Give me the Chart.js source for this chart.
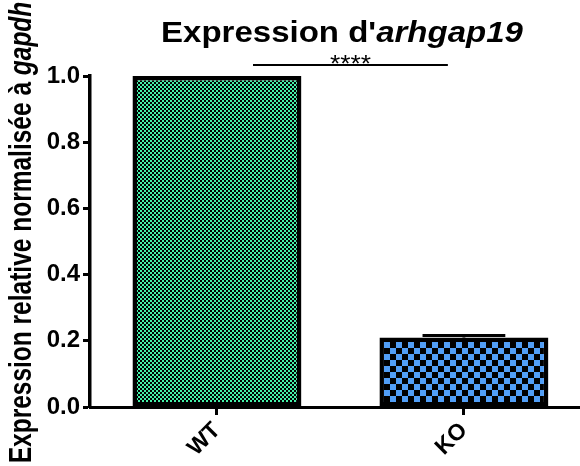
<!DOCTYPE html>
<html>
<head>
<meta charset="utf-8">
<script src="https://cdn.jsdelivr.net/npm/chart.js@4"></script>
<style>
  html, body { margin: 0; padding: 0; background: #fff; overflow: hidden; }
</style>
</head>
<body>
<canvas id="chart" width="580" height="466"></canvas>
<script>
const categories = ["WT", "KO"]
const means = [1.0, 0.21]
const sems = [0, 0.006]
const yTicks = [0, 0.2, 0.4, 0.6, 0.8, 1.0]
const barColors = ["#44f0a8", "#519ef6"]
const checkSize = [2, 6]
const blackPart = [0.7, 0.95]
const stars = "****"

const FONT = "'Liberation Sans', Arial, Helvetica, sans-serif"
const STRETCH = 1.1 //le texte de l'original est un peu etire en largeur
const canvas = document.getElementById("chart")
const ctx = canvas.getContext("2d")

//motif a damier comme dans Prism (dessine en grand puis reduit)
function checker(color, size, frac) {
  const R = 10
  const cell = size * R
  const sq = cell * frac
  const off = (cell - sq) / 2
  const tile = document.createElement("canvas")
  tile.width = cell * 2
  tile.height = cell * 2
  const c = tile.getContext("2d")
  c.fillStyle = color
  c.fillRect(0, 0, cell * 2, cell * 2)
  c.fillStyle = "#000"
  c.fillRect(off, off, sq, sq)
  c.fillRect(cell + off, cell + off, sq, sq)
  const pat = ctx.createPattern(tile, "repeat")
  pat.setTransform(new DOMMatrix().scale(1 / R))
  return pat
}

//texte avec morceaux en italique, centre en x
function drawParts(c, parts, x, y) {
  let total = 0
  parts.forEach(p => { c.font = p.font; p.w = c.measureText(p.text).width; total += p.w })
  let cx = x - total / 2
  c.textAlign = "left"
  parts.forEach(p => { c.font = p.font; c.fillText(p.text, cx, y); cx += p.w })
}

const decorations = {
  id: "decorations",
  afterDatasetsDraw(chart) {
    const { ctx, scales: { x, y } } = chart
    const meta = chart.getDatasetMeta(0)
    ctx.save()
    ctx.strokeStyle = "#000"
    //barres d'erreur
    meta.data.forEach((bar, i) => {
      if (!sems[i]) return
      const top = y.getPixelForValue(means[i] + sems[i])
      const half = bar.width * 0.245
      ctx.lineWidth = 3
      ctx.beginPath()
      ctx.moveTo(bar.x, bar.y)
      ctx.lineTo(bar.x, top)
      ctx.moveTo(bar.x - half, top)
      ctx.lineTo(bar.x + half, top)
      ctx.stroke()
    })
    //significativite
    const sy = y.getPixelForValue(1.033)
    const x1 = x.getPixelForValue(0.146)
    const x2 = x.getPixelForValue(0.935)
    ctx.lineWidth = 2
    ctx.beginPath()
    ctx.moveTo(x1, sy)
    ctx.lineTo(x2, sy)
    ctx.stroke()
    ctx.fillStyle = "#000"
    ctx.translate((x1 + x2) / 2, sy + 7)
    ctx.scale(STRETCH, 1)
    ctx.font = "24px " + FONT
    ctx.textAlign = "center"
    ctx.textBaseline = "alphabetic"
    ctx.fillText(stars, 0, 0)
    ctx.restore()
  },
  afterDraw(chart) {
    const { ctx, chartArea } = chart
    ctx.save()
    ctx.fillStyle = "#000"
    ctx.textBaseline = "alphabetic"
    //titre
    ctx.translate(342, 42)
    ctx.scale(STRETCH, 1)
    drawParts(ctx, [
      { text: "Expression d'", font: "bold 30px " + FONT },
      { text: "arhgap19", font: "italic bold 30px " + FONT }
    ], 0, 0)
    ctx.restore()
    //titre axe y
    ctx.save()
    ctx.fillStyle = "#000"
    ctx.textBaseline = "alphabetic"
    ctx.translate(31, (chartArea.top + chartArea.bottom) / 2 - 9)
    ctx.scale(1.3, 1)
    ctx.rotate(-Math.PI / 2)
    drawParts(ctx, [
      { text: "Expression relative normalisée à ", font: "bold 24.5px " + FONT },
      { text: "gapdh", font: "italic bold 24.5px " + FONT }
    ], 0, 0)
    ctx.restore()
  }
}

let chart = new Chart(ctx, {
  type: "bar",
  plugins: [decorations],
  data: {
    datasets: [
      {
        data: categories.map((c, i) => ({ x: i, y: means[i] })),
        backgroundColor: barColors.map((col, i) => checker(col, checkSize[i], blackPart[i])),
        borderColor: "#000",
        borderWidth: 4.5,
        borderSkipped: false,
        categoryPercentage: 1,
        barPercentage: 0.684
      }
    ]
  },
  options: {
    responsive: false,
    animation: false,
    events: [],
    layout: { padding: { top: 76, left: 0, right: 0, bottom: 0 } },
    plugins: { legend: { display: false }, tooltip: { enabled: false }, title: { display: false } },
    scales: {
      x: {
        type: "linear",
        offset: false,
        min: -0.514,
        max: 1.47,
        afterBuildTicks(scale) { scale.ticks = categories.map((c, i) => ({ value: i })) },
        afterFit(scale) {
          scale.height = 59
          scale.paddingLeft = 0
          scale.paddingRight = 0
        },
        ticks: {
          autoSkip: false,
          minRotation: 45,
          maxRotation: 45,
          color: "#000",
          padding: 2,
          font: { family: FONT, size: 23, weight: "bold" },
          callback: v => categories[v]
        },
        grid: { offset: false, drawOnChartArea: false, drawTicks: true, tickLength: 8, tickWidth: 3, tickColor: "#000" },
        border: { color: "#000", width: 3 }
      },
      y: {
        min: 0,
        max: 1,
        afterBuildTicks(scale) { scale.ticks = yTicks.map(v => ({ value: v })) },
        afterFit(scale) {
          scale.width = 90
          scale.paddingTop = 0
          scale.paddingBottom = 0
        },
        ticks: {
          color: "#000",
          padding: 3,
          font: { family: FONT, size: 24, weight: "bold" },
          callback: v => v.toFixed(1)
        },
        grid: { drawOnChartArea: false, drawTicks: true, tickLength: 7, tickWidth: 3, tickColor: "#000" },
        border: { color: "#000", width: 3.5 }
      }
    }
  }
})
</script>
</body>
</html>
